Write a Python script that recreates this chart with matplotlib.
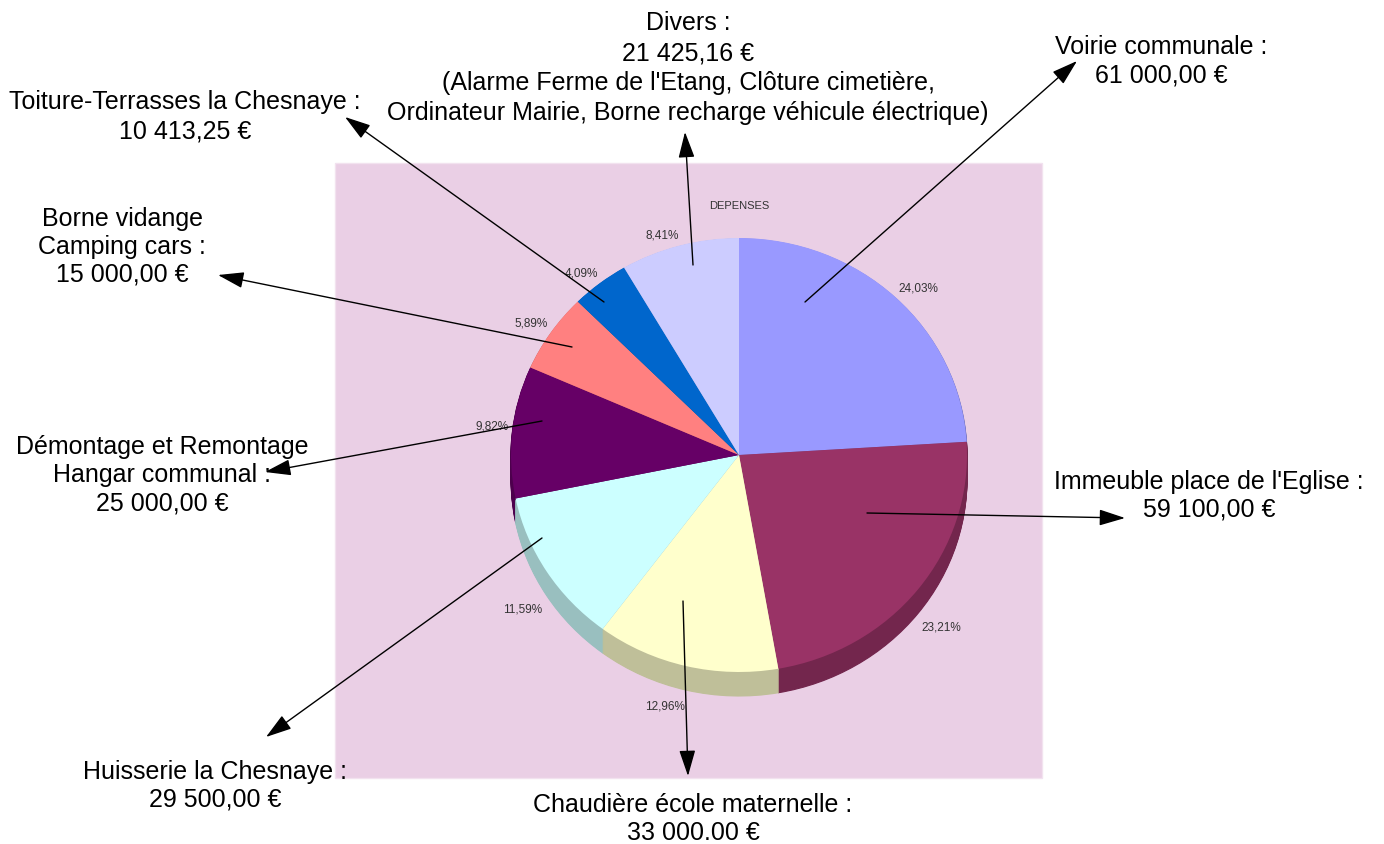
import matplotlib.pyplot as plt
import matplotlib.colors as mcolors
from matplotlib.patches import Rectangle

plt.rcParams['font.family'] = ['Liberation Sans', 'DejaVu Sans']

# data (clockwise from 12 o'clock)
postes = ["Voirie communale", "Immeuble place de l'Eglise", "Chaudière école maternelle",
          "Huisserie la Chesnaye", "Démontage et Remontage Hangar communal",
          "Borne vidange Camping cars", "Toiture-Terrasses la Chesnaye", "Divers"]
montants = [61000.00, 59100.00, 33000.00, 29500.00, 25000.00, 15000.00, 10413.25, 21425.16]
pourcentages = [24.03, 23.21, 12.96, 11.59, 9.82, 5.89, 4.09, 8.41]
pct_labels = ["24,03%", "23,21%", "12,96%", "11,59%", "9,82%", "5,89%", "4,09%", "8,41%"]
couleurs = ['#9999FF', '#993366', '#FFFFCC', '#CCFFFF', '#660066', '#FF8080', '#0066CC', '#CCCCFF']

# callout texts, one list of lines per slice
callouts = [
    ["Voirie communale :", "61 000,00 €"],
    ["Immeuble place de l'Eglise :", "59 100,00 €"],
    ["Chaudière école maternelle :", "33 000.00 €"],
    ["Huisserie la Chesnaye :", "29 500,00 €"],
    ["Démontage et Remontage", "Hangar communal :", "25 000,00 €"],
    ["Borne vidange", "Camping cars :", "15 000,00 €"],
    ["Toiture-Terrasses la Chesnaye :", "10 413,25 €"],
    ["Divers :", "21 425,16 €", "(Alarme Ferme de l'Etang, Clôture cimetière,",
     "Ordinateur Mairie, Borne recharge véhicule électrique)"],
]

# layout (pixels)
W, H = 1384, 845
cx, cy, rx, ry = 739, 456, 228, 217
depth = 24
rect = (335, 164, 1042, 779)
callout_xy = [(1161, 47), (1209, 482), (693, 805), (215, 772), (162, 447),
              (122, 219), (185, 102), (688, 23)]
line_step = [28, 28, 28, 28, 28, 28, 29, 30]
arrows = [((805, 303), (1077, 62)), ((867, 514), (1125, 519)), ((683, 602), (688, 777)),
          ((542, 539), (266, 738)), ((542, 422), (265, 473)), ((572, 348), (218, 276)),
          ((604, 303), (345, 118)), ((693, 266), (685, 133))]
pct_xy = [(918, 289), (941, 628), (665, 707), (523, 610), (492, 427),
          (531, 324), (581, 274), (662, 236)]

fig = plt.figure(figsize=(W / 100, H / 100), dpi=100)

bg = fig.add_axes([0, 0, 1, 1], zorder=0)
bg.set_xlim(0, W)
bg.set_ylim(H, 0)
bg.axis('off')
bg.add_patch(Rectangle((rect[0], rect[1]), rect[2] - rect[0], rect[3] - rect[1],
                       facecolor='#EACFE5', edgecolor='#F2E2EF', lw=1))

# pie axes mapped so that 1 unit = rx px horizontally, ry px vertically
ax = fig.add_axes([0, 0, 1, 1], zorder=1)
sombres = [tuple(0.75 * c for c in mcolors.to_rgb(col)) for col in couleurs]
for k in range(depth, 0, -1):
    ax.pie(pourcentages, colors=sombres, startangle=90, counterclock=False,
           center=(0, -k / ry), radius=1,
           wedgeprops=dict(linewidth=0.8, edgecolor=None))
    for w, c in zip(ax.patches[-len(sombres):], sombres):
        w.set_edgecolor(c)
ax.pie(pourcentages, colors=couleurs, startangle=90, counterclock=False,
       radius=1, wedgeprops=dict(linewidth=0))
ax.set_aspect('auto')
ax.set_xlim(-cx / rx, (W - cx) / rx)
ax.set_ylim((cy - H) / ry, cy / ry)
ax.axis('off')

top = fig.add_axes([0, 0, 1, 1], zorder=2)
top.set_xlim(0, W)
top.set_ylim(H, 0)
top.axis('off')
top.patch.set_visible(False)

top.text(739, 206, "DEPENSES", ha='center', va='center', fontsize=8, color='#333333')
for (x, y), t in zip(pct_xy, pct_labels):
    top.text(x, y, t, ha='center', va='center', fontsize=8.5, color='#333333')

for (tail, head) in arrows:
    top.annotate('', xy=head, xytext=tail,
                 arrowprops=dict(arrowstyle='-|>,head_length=0.8,head_width=0.25',
                                 color='black', lw=1, mutation_scale=20,
                                 shrinkA=0, shrinkB=0))

for lines, (x, y), step in zip(callouts, callout_xy, line_step):
    for i, line in enumerate(lines):
        top.text(x, y + i * step, line, ha='center', va='center', fontsize=18, color='black')

fig.savefig('out.png', dpi=100)
